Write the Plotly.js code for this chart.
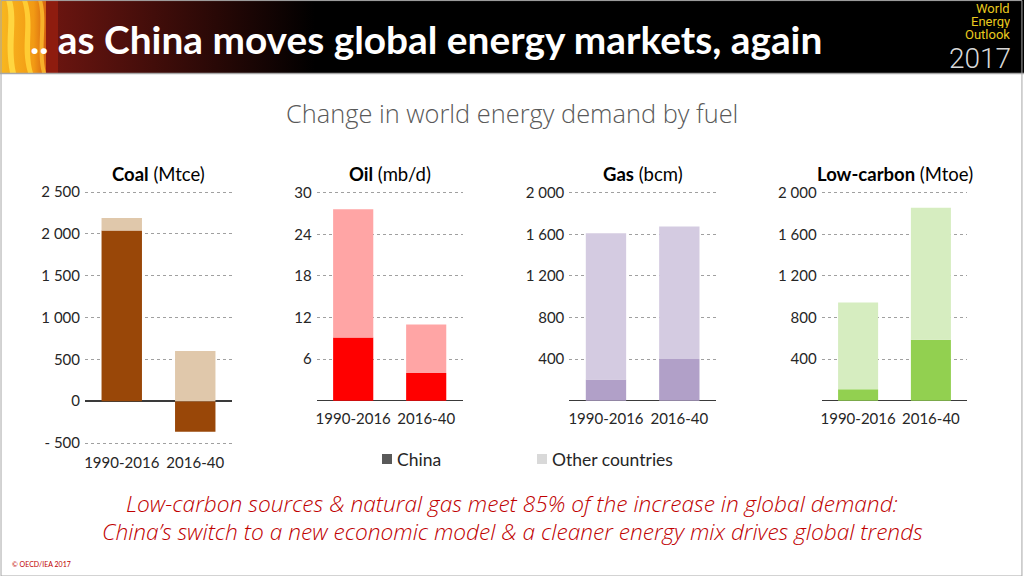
<!DOCTYPE html>
<html><head><meta charset="utf-8">
<script src="https://cdn.plot.ly/plotly-3.0.1.min.js"></script>
<style>html,body{margin:0;padding:0;background:#fff}#chart{width:1024px;height:576px}</style>
</head><body><div id="chart"></div>
<script>
// ---- data ----
const periods = ['1990-2016', '2016-40'];
const coalChina = [2040, -365];
const coalOther = [150, 600];
const oilChina = [9.1, 4.0];
const oilOther = [18.5, 7.0];
const gasChina = [205, 400];
const gasOther = [1405, 1275];
const lowChina = [110, 585];
const lowOther = [835, 1270];
const coalTicks = [-500, 0, 500, 1000, 1500, 2000, 2500];
const coalTickText = ['- 500', '0', '500', '1 000', '1 500', '2 000', '2 500'];
const oilTicks = [6, 12, 18, 24, 30];
const oilTickText = ['6', '12', '18', '24', '30'];
const gasTicks = [400, 800, 1200, 1600, 2000];
const gasTickText = ['400', '800', '1 200', '1 600', '2 000'];
const lowTicks = [400, 800, 1200, 1600, 2000];
const lowTickText = ['400', '800', '1 200', '1 600', '2 000'];
const panelTitles = ['<b>Coal</b> (Mtce)', '<b>Oil</b> (mb/d)', '<b>Gas</b> (bcm)', '<b>Low-carbon</b> (Mtoe)'];
const legendNames = ['China', 'Other countries'];
const headline = '.. as China moves global energy markets, again';
const logoWords = ['World', 'Energy', 'Outlook'];
const logoYear = '2017';
const subtitle = 'Change in world energy demand by fuel';
const footer1 = 'Low-carbon sources &amp; natural gas meet 85% of the increase in global demand:';
const footer2 = 'China’s switch to a new economic model &amp; a cleaner energy mix drives global trends';

// ---- styling ----
const W = 1024, H = 576;
const px = v => v / W;
const py = v => 1 - v / H;
const panels = [
  {china: coalChina, other: coalOther, ticks: coalTicks, text: coalTickText, range: [-500, 2500],
   cc: '#994708', oc: '#E0C8AB', x: [85, 232], y: [192, 443]},
  {china: oilChina, other: oilOther, ticks: oilTicks, text: oilTickText, range: [0, 30],
   cc: '#FF0000', oc: '#FFA5A5', x: [316.7, 462.7], y: [192.7, 400.7]},
  {china: gasChina, other: gasOther, ticks: gasTicks, text: gasTickText, range: [0, 2000],
   cc: '#B1A0C8', oc: '#D4CBE1', x: [569.3, 716], y: [192.7, 400.7]},
  {china: lowChina, other: lowOther, ticks: lowTicks, text: lowTickText, range: [0, 2000],
   cc: '#92D050', oc: '#D6EDC0', x: [821.7, 967.3], y: [192.7, 400.7]}
];
const tickFont = {family: 'Lato, sans-serif', size: 15, color: '#262626'};
const PAD = 2; // px of padding so edge gridlines are drawn

const data = [];
const layout = {
  width: W, height: H, margin: {l: 0, r: 0, t: 0, b: 0},
  paper_bgcolor: '#fff', plot_bgcolor: 'rgba(0,0,0,0)',
  barmode: 'relative', bargap: 0.45, showlegend: false,
  font: {family: 'Lato, sans-serif'},
  annotations: [], shapes: [], images: []
};

panels.forEach((p, i) => {
  const s = i === 0 ? '' : String(i + 1);
  const vpp = (p.range[1] - p.range[0]) / (p.y[1] - p.y[0]);
  data.push({type: 'bar', x: periods, y: p.china, xaxis: 'x' + s, yaxis: 'y' + s,
             marker: {color: p.cc}, hoverinfo: 'skip'});
  data.push({type: 'bar', x: periods, y: p.other, xaxis: 'x' + s, yaxis: 'y' + s,
             marker: {color: p.oc}, hoverinfo: 'skip'});
  layout['xaxis' + s] = {domain: [px(p.x[0]), px(p.x[1])], anchor: 'y' + s, type: 'category',
    showgrid: false, zeroline: false, showline: false, ticks: '', tickfont: tickFont,
    ticklabelstandoff: i === 0 ? 7 : 5, fixedrange: true};
  layout['yaxis' + s] = {domain: [py(p.y[1] + PAD), py(p.y[0] - PAD)], anchor: 'x' + s,
    range: [p.range[0] - PAD * vpp, p.range[1] + PAD * vpp],
    tickmode: 'array', tickvals: p.ticks, ticktext: p.text, showgrid: true,
    gridcolor: '#a0a0a0', griddash: 'dot', gridwidth: 1, zeroline: true,
    zerolinecolor: '#3a3a3a', zerolinewidth: 1.5, showline: false, ticks: '',
    tickfont: tickFont, ticklabelstandoff: 4, fixedrange: true};
  layout.annotations.push({text: panelTitles[i], xref: 'x' + s + ' domain', x: 0.5, yref: 'paper',
    y: py(174), xanchor: 'center', yanchor: 'middle', showarrow: false,
    font: {family: 'Lato, sans-serif', size: 18.5, color: '#000'}});
});

// header background
const svg = "<svg xmlns='http://www.w3.org/2000/svg' width='1024' height='73'>" +
  "<defs><linearGradient id='g' x1='0' x2='1'><stop offset='0' stop-color='#6a1510'/><stop offset='1' stop-color='#000'/></linearGradient>" +
  "<linearGradient id='f' x1='0' x2='1'><stop offset='0' stop-color='#f8b820'/><stop offset='0.7' stop-color='#f29a14'/><stop offset='1' stop-color='#d05a10'/></linearGradient></defs>" +
  "<rect width='1024' height='73' fill='#000'/>" +
  "<rect x='55' width='260' height='73' fill='url(#g)'/>" +
  "<rect width='48' height='73' fill='url(#f)'/>" +
  "<path d='M6 0 C12 20 4 40 10 73 L16 73 C10 45 18 22 12 0Z' fill='#ffd640'/>" +
  "<path d='M22 0 C30 25 20 45 28 73 L33 73 C26 48 35 25 27 0Z' fill='#ffcc33'/>" +
  "<path d='M38 0 C44 20 36 50 42 73 L46 73 C40 48 48 22 42 0Z' fill='#f7b02a'/>" +
  "<rect x='46' width='12' height='73' fill='#8e1c0f'/>" +
  "</svg>";
layout.images.push({source: 'data:image/svg+xml;charset=utf-8,' + encodeURIComponent(svg),
  xref: 'paper', yref: 'paper', x: 0, y: 1, sizex: 1, sizey: 73 / H,
  xanchor: 'left', yanchor: 'top', sizing: 'stretch', layer: 'below'});

// slide border and header separator
layout.shapes.push({type: 'rect', xref: 'paper', yref: 'paper', x0: 0.001, x1: 0.998, y0: 0, y1: 0.999,
  line: {color: '#a6a6a6', width: 1}, fillcolor: 'rgba(0,0,0,0)'});
layout.shapes.push({type: 'line', xref: 'paper', yref: 'paper', x0: 0, x1: 1, y0: py(73.5), y1: py(73.5),
  line: {color: '#a6a6a6', width: 1.5}});

// headline
layout.annotations.push({text: '<b>' + headline + '</b>', xref: 'paper', yref: 'paper',
  x: px(28), y: py(39), xanchor: 'left', yanchor: 'middle', showarrow: false,
  font: {family: 'Lato, sans-serif', size: 38.8, color: '#fff'}});
// logo
const logoY = [8.5, 21.5, 34.5];
logoWords.forEach((w, i) => layout.annotations.push({text: w, xref: 'paper', yref: 'paper',
  x: px(1011), y: py(logoY[i]), xanchor: 'right', yanchor: 'middle', align: 'right',
  height: 13, borderpad: 0, showarrow: false,
  font: {family: 'Roboto, sans-serif', size: 13, color: '#e9c91e'}}));
layout.annotations.push({text: logoYear, xref: 'paper', yref: 'paper', x: px(1012), y: py(58),
  xanchor: 'right', yanchor: 'middle', height: 22, borderpad: 0, showarrow: false,
  font: {family: 'Roboto, sans-serif', size: 28, weight: 300, color: '#d8d8d8'}});

// subtitle
layout.annotations.push({text: subtitle, xref: 'paper', yref: 'paper', x: 0.5, y: py(113),
  xanchor: 'center', yanchor: 'middle', showarrow: false,
  font: {family: '"Open Sans", sans-serif', size: 25.4, weight: 300, color: '#595959'}});

// legend
const legendColors = ['#595959', '#d9d9d9'];
const legendX = [382, 537];
legendNames.forEach((n, i) => {
  layout.shapes.push({type: 'rect', xref: 'paper', yref: 'paper',
    x0: px(legendX[i]), x1: px(legendX[i] + 10), y0: py(464), y1: py(454),
    fillcolor: legendColors[i], line: {width: 0}});
  layout.annotations.push({text: n, xref: 'paper', yref: 'paper', x: px(legendX[i] + 13), y: py(459),
    xanchor: 'left', yanchor: 'middle', showarrow: false,
    font: {family: 'Lato, sans-serif', size: 17.5, color: '#262626'}});
});

// footer
[[footer1, 503], [footer2, 531]].forEach(f => layout.annotations.push({text: f[0], xref: 'paper',
  yref: 'paper', x: 0.5, y: py(f[1]), xanchor: 'center', yanchor: 'middle', showarrow: false,
  font: {family: '"Open Sans", sans-serif', size: 22.7, weight: 300, style: 'italic', color: '#c00000'}}));
layout.annotations.push({text: '© OECD/IEA 2017', xref: 'paper', yref: 'paper', x: px(10), y: py(564),
  xanchor: 'left', yanchor: 'middle', showarrow: false,
  font: {family: 'Lato, sans-serif', size: 7, color: '#c00000'}});

Plotly.newPlot('chart', data, layout, {displayModeBar: false, staticPlot: true});
</script></body></html>
